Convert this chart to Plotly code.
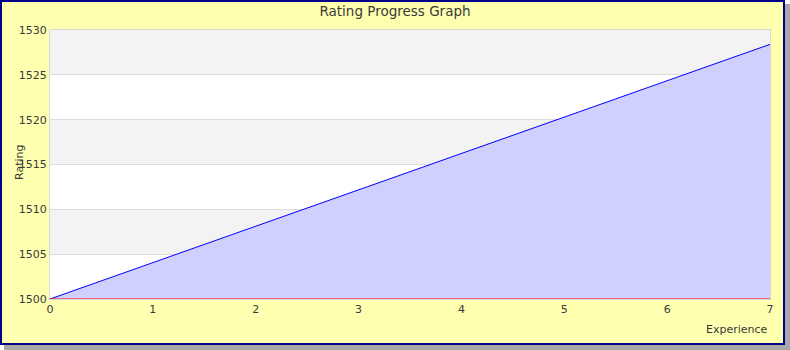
import plotly.graph_objects as go

experience = [0, 7]
rating = [1500, 1528.4]
x_ticks = [0, 1, 2, 3, 4, 5, 6, 7]
y_ticks = [1500, 1505, 1510, 1515, 1520, 1525, 1530]
band_ranges = [(1505, 1510), (1515, 1520), (1525, 1530)]

W, H = 790, 350
L, R, T, B = 50, 20, 30, 51
PW, PH = W - L - R, H - T - B

def px(x):
    return (x - L) / PW

def py(y):
    return (H - B - y) / PH

font = "DejaVu Sans"
fig = go.Figure()
fig.add_trace(go.Scatter(
    x=experience, y=rating, mode="lines",
    line=dict(color="#0000ff", width=1),
    fill="tozeroy", fillcolor="rgba(208,208,255,1)",
    hoverinfo="skip", showlegend=False,
))

shapes = [
    dict(type="rect", xref="paper", yref="paper", x0=px(4), x1=px(790), y0=py(4), y1=py(350),
         fillcolor="#a8a8a8", line=dict(width=0), layer="below"),
    dict(type="rect", xref="paper", yref="paper", x0=px(1), x1=px(784), y0=py(1), y1=py(344),
         fillcolor="#ffffb0", line=dict(color="#00008b", width=2), layer="below"),
    dict(type="rect", xref="paper", yref="paper", x0=0, x1=1, y0=0, y1=1,
         fillcolor="#ffffff", line=dict(width=0), layer="below"),
]
for lo, hi in band_ranges:
    shapes.append(dict(type="rect", xref="paper", yref="y", x0=0, x1=1, y0=lo, y1=hi,
                       fillcolor="#f3f3f3", line=dict(width=0), layer="below"))
shapes.append(dict(type="line", xref="paper", yref="y", x0=0, x1=1, y0=1500, y1=1500,
                   line=dict(color="#ff0000", width=1), layer="above"))

fig.update_layout(
    width=W, height=H,
    margin=dict(l=L, r=R, t=T, b=B),
    paper_bgcolor="#ffffff",
    plot_bgcolor="rgba(0,0,0,0)",
    font=dict(family=font, size=11, color="#3a3a3a"),
    title=dict(text="Rating Progress Graph", x=0.5, xanchor="center",
               y=1 - 11 / H, yanchor="middle", yref="container",
               font=dict(family=font, size=13.5, color="#3a3a3a")),
    shapes=shapes,
    xaxis=dict(range=[0, 7], tickvals=x_ticks, showgrid=False, zeroline=False,
               showline=True, mirror=True, linecolor="#d8d8d8", linewidth=1,
               ticks="", tickfont=dict(size=11, color="#3a3a3a")),
    yaxis=dict(range=[1500, 1530], tickvals=y_ticks, showgrid=True, gridcolor="#dcdcdc",
               gridwidth=1, zeroline=False, showline=True, mirror=True,
               linecolor="#d8d8d8", linewidth=1, ticks="",
               tickfont=dict(size=11, color="#3a3a3a")),
    annotations=[
        dict(text="Rating", xref="paper", yref="paper", x=px(19), y=py(163),
             xanchor="center", yanchor="middle", textangle=-90, showarrow=False,
             font=dict(family=font, size=11, color="#3a3a3a")),
        dict(text="Experience", xref="paper", yref="paper", x=1, y=py(329),
             xanchor="right", yanchor="middle", showarrow=False,
             font=dict(family=font, size=11, color="#3a3a3a")),
    ],
)

fig.write_html("out.html")
